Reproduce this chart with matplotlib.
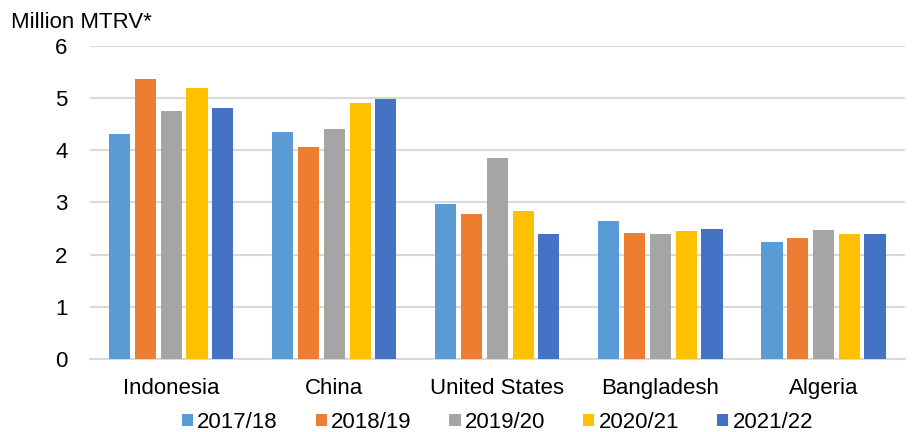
import numpy as np
import matplotlib.pyplot as plt

plt.rcParams['font.family'] = ['Liberation Sans', 'DejaVu Sans']

countries = ['Indonesia', 'China', 'United States', 'Bangladesh', 'Algeria']
seasons = ['2017/18', '2018/19', '2019/20', '2020/21', '2021/22']
v_1718 = [4.31, 4.34, 2.97, 2.64, 2.25]
v_1819 = [5.36, 4.06, 2.77, 2.42, 2.32]
v_1920 = [4.75, 4.41, 3.85, 2.40, 2.47]
v_2021 = [5.19, 4.90, 2.84, 2.45, 2.40]
v_2122 = [4.80, 4.99, 2.40, 2.49, 2.40]
series = [v_1718, v_1819, v_1920, v_2021, v_2122]
colors = ['#5B9BD5', '#ED7D31', '#A5A5A5', '#FFC000', '#4472C4']

fig = plt.figure(figsize=(9.16, 4.32), dpi=100)
ax = fig.add_axes([0.098, 0.169, 0.89, 0.725])

x = np.arange(len(countries))
step = 0.158
for i, vals in enumerate(series):
    ax.bar(x + (i - 2) * step, vals, width=step * 0.82, color=colors[i],
           label=seasons[i], zorder=3)

ax.set_xlim(-0.5, len(countries) - 0.5)
ax.set_ylim(0, 6)
ax.set_yticks(range(0, 7))
ax.yaxis.grid(True, color='#d9d9d9', linewidth=1.5, zorder=0)
for s in ['top', 'right', 'left']:
    ax.spines[s].set_visible(False)
ax.spines['bottom'].set_color('#d9d9d9')
ax.spines['bottom'].set_linewidth(1.5)
ax.tick_params(axis='both', length=0, labelsize=16, colors='#000000')
ax.tick_params(axis='y', pad=16)
ax.tick_params(axis='x', pad=14)
ax.set_xticks(x)
ax.set_xticklabels(countries)

fig.text(0.012, 0.949, 'Million MTRV*', fontsize=16, va='center', ha='left')

ax.legend(loc='upper center', bbox_to_anchor=(0.5, -0.14), ncol=5, frameon=False,
          fontsize=16, handlelength=0.5, handleheight=0.5, handletextpad=0.2,
          columnspacing=1.7, borderaxespad=0)

fig.savefig('out.png', dpi=100)
